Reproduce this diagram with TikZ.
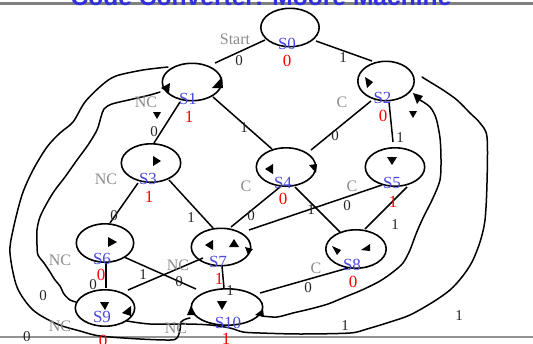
\documentclass[tikz,border=0pt]{standalone}
\usepackage{fontspec}
\setmainfont{Liberation Serif}
\newfontfamily\headfont{Liberation Sans}
\usetikzlibrary{shapes.geometric,calc}
\definecolor{statename}{RGB}{72,72,224}
\definecolor{outred}{RGB}{255,0,0}
\definecolor{condgray}{RGB}{140,140,140}
\definecolor{headblue}{RGB}{48,48,224}
\definecolor{rulegray}{RGB}{128,128,128}
\begin{document}
\begin{tikzpicture}[x=1pt,y=-1pt,
  state/.style={ellipse,draw,line width=1.6pt,inner sep=0pt},
  sname/.style={text=statename,font=\fontsize{17}{18}\selectfont,inner sep=0pt},
  sout/.style={text=outred,font=\fontsize{17}{18}\selectfont,inner sep=0pt},
  cond/.style={text=condgray,font=\fontsize{16}{18}\selectfont,inner sep=0pt},
  bit/.style={text=black!85,font=\fontsize{15}{17}\selectfont,inner sep=0pt},
  link/.style={line width=1.5pt},
  hand/.style={line width=1.5pt,line join=round,line cap=round},
  tipmark/.style={fill=black}
]
\useasboundingbox (0,0) rectangle (533,343);
\clip (0,0) rectangle (533,343);

% header and footer rules
\draw[rulegray,line width=3.2pt] (0,3.4) -- (533,3.4);
\draw[rulegray!85,line width=1.8pt] (0,337) -- (533,337);
\node[anchor=base,text=headblue,font=\headfont\bfseries\fontsize{24.6}{28}\selectfont,inner sep=0pt]
  (head) at (261,5.8) {Code Converter: Moore Machine};

% states
\node[state,minimum width=58.4pt,minimum height=38.4pt] (S0)  at (290,27.5) {};
\node[state,minimum width=59.4pt,minimum height=37.4pt] (S1)  at (192,82) {};
\node[state,minimum width=56.4pt,minimum height=39.4pt] (S2)  at (386,81) {};
\node[state,minimum width=59.4pt,minimum height=38.4pt] (S3)  at (151,163) {};
\node[state,minimum width=59.4pt,minimum height=38.4pt] (S4)  at (286,167) {};
\node[state,minimum width=59.4pt,minimum height=38.4pt] (S5)  at (395,167) {};
\node[state,minimum width=57.4pt,minimum height=38.4pt] (S6)  at (105,243) {};
\node[state,minimum width=59.4pt,minimum height=37.4pt] (S7)  at (221,247) {};
\node[state,minimum width=60.4pt,minimum height=38.4pt] (S8)  at (356,249) {};
\node[state,minimum width=59.4pt,minimum height=36.4pt] (S9)  at (105,308) {};
\node[state,minimum width=71.4pt,minimum height=36.4pt] (S10) at (227,307) {};

% straight transitions
\draw[link] ($(S0)+(-25,12.5)$) -- ($(S1)+(23,-19)$);
\draw[link] ($(S0)+(26,13.5)$)  -- ($(S2)+(-14,-20)$);
\draw[link] ($(S1)+(-12,20)$)   -- ($(S3)+(3,-20)$);
\draw[link] ($(S1)+(21,15)$)    -- ($(S4)+(-14,-18)$);
\draw[link] ($(S2)+(-15,20)$)   -- ($(S4)+(25,-17)$);
\draw[link] ($(S2)+(3,21)$)     -- ($(S5)+(-2,-25)$);
\draw[link] ($(S3)+(-13,20)$)   -- ($(S6)+(5,-20)$);
\draw[link] ($(S3)+(18,17)$)    -- ($(S7)+(-8,-19)$);
\draw[link] ($(S4)+(-6,20)$)    -- ($(S7)+(10,-20)$);
\draw[link] ($(S4)+(9,20)$)     -- ($(S8)+(-16,-17)$);
\draw[link] ($(S5)+(-13,18)$)   -- ($(S7)+(28,-17)$);
\draw[link] ($(S5)+(12,20)$)    -- ($(S8)+(9,-20)$);
\draw[link] ($(S6)+(1,20)$)     -- ($(S9)+(1,-20)$);
\draw[link] ($(S6)+(19,14)$)    -- ($(S10)+(-31,-18)$);
\draw[link] ($(S9)+(23,-18)$)   -- ($(S7)+(-18,11)$);
\draw[link] ($(S7)+(1,19)$)     -- ($(S10)+(-3,-19)$);
\draw[link] ($(S8)+(-8,19)$)    -- ($(S10)+(33,-14)$);

% hand-drawn return paths
\coordinate (olA) at ($(S1)+(-24,-15)$);
\coordinate (olB) at ($(S10)+(-37,11)$);
\coordinate (ilA) at ($(S9)+(-29,-6)$);
\coordinate (ilB) at ($(S1)+(-32,10)$);
\coordinate (orA) at ($(S9)+(22,13)$);
\coordinate (orB) at ($(S2)+(36,-4)$);
\coordinate (irA) at ($(S10)+(35,9)$);
\coordinate (irB) at ($(S2)+(34,19)$);

\draw[hand] plot[smooth,tension=0.5] coordinates {(olA) (143,70) (116,76) (102,85) (85,102) (73,122)
  (60,133) (47,147) (33,170) (22,195) (13,230) (10,253) (17,287) (33,310) (57,324) (80,331)
  (100,336) (140,339) (170,340) (177,338) (180,330) (181,322) (186,319) (olB)};
\draw[hand] plot[smooth,tension=0.5] coordinates {(ilA) (70,300) (64,294) (60,286) (55,280)
  (50,272) (44,263) (38,255) (37,245) (37,230) (40,217) (47,203) (55,190) (65,177) (77,160)
  (88,145) (97,130) (101,117) (104,109) (112,104) (133,99) (150,95) (ilB)};
\draw[hand] plot[smooth,tension=0.5] coordinates {(orA) (150,324) (187,324) (210,325) (230,328)
  (243,332) (260,333) (300,334) (350,333) (367,329) (390,322) (410,315) (433,302) (450,290)
  (462,277) (472,262) (480,242) (485,220) (487,183) (487,137) (480,123) (470,113) (457,100)
  (443,90) (430,82) (orB)};
\draw[hand] plot[smooth,tension=0.5] coordinates {(irA) (277,317) (293,313) (310,309) (328,304)
  (345,297) (362,290) (380,281) (393,272) (403,263) (410,250) (416,234) (423,218) (433,198)
  (440,180) (441,160) (440,138) (436,118) (430,107) (irB)};

% arrowheads
\fill[tipmark] (222,77) -- (212,88) -- (223,88) -- cycle;
\fill[tipmark] (161,88) -- (170,83) -- (169,93) -- cycle;
\fill[tipmark] (157,119) -- (153,112) -- (161,112) -- cycle;
\fill[tipmark] (365,77) -- (373,82) -- (367,88) -- cycle;
\fill[tipmark] (413,93) -- (423,96) -- (417,104) -- cycle;
\fill[tipmark] (413,118) -- (409,111) -- (417,111) -- cycle;
\fill[tipmark] (161,161) -- (153,156) -- (153,166) -- cycle;
\fill[tipmark] (265,169) -- (273,164) -- (273,174) -- cycle;
\fill[tipmark] (316,173) -- (309,165) -- (317,164) -- cycle;
\fill[tipmark] (392,165) -- (387,157) -- (397,157) -- cycle;
\fill[tipmark] (117,242) -- (108,237) -- (108,247) -- cycle;
\fill[tipmark] (205,245) -- (213,240) -- (213,250) -- cycle;
\fill[tipmark] (234,239) -- (229,247) -- (239,247) -- cycle;
\fill[tipmark] (248,255) -- (245,247) -- (253,249) -- cycle;
\fill[tipmark] (332,246) -- (341,250) -- (337,255) -- cycle;
\fill[tipmark] (370,244) -- (361,250) -- (370,251) -- cycle;
\fill[tipmark] (105,310) -- (100,302) -- (109,302) -- cycle;
\fill[tipmark] (122,313) -- (131,306) -- (131,316) -- cycle;
\fill[tipmark] (222,310) -- (217,301) -- (227,301) -- cycle;
\fill[tipmark] (191,306) -- (187,315) -- (196,315) -- cycle;
\fill[tipmark] (255,315) -- (263,309) -- (264,317) -- cycle;

% state names and outputs
\node[sname] (n0)  at (287,43.5) {S0};   \node[sout] (o0)  at (287,61)    {0};
\node[sname] (n1)  at (188,98.6) {S1};   \node[sout] (o1)  at (189,117)   {1};
\node[sname] (n2)  at (382.5,98) {S2};   \node[sout] (o2)  at (383,115.6) {0};
\node[sname] (n3)  at (148,179)  {S3};   \node[sout] (o3)  at (149,197)   {1};
\node[sname] (n4)  at (283,183)  {S4};   \node[sout] (o4)  at (283,199)   {0};
\node[sname] (n5)  at (392,183)  {S5};   \node[sout] (o5)  at (393,202)   {1};
\node[sname] (n6)  at (102,259)  {S6};   \node[sout] (o6)  at (101,275)   {0};
\node[sname] (n7)  at (218,262)  {S7};   \node[sout] (o7)  at (219,279)   {1};
\node[sname] (n8)  at (352,265)  {S8};   \node[sout] (o8)  at (353,282)   {0};
\node[sname] (n9)  at (102,317)  {S9};   \node[sout] (o9)  at (103,341)   {0};
\node[sname] (n10) at (228,323)  {S10};  \node[sout] (o10) at (226,339)   {1};

% input conditions
\node[cond] (cStart) at (235,39)  {Start};
\node[cond] (c1)  at (146,102) {NC};
\node[cond] (c2)  at (342,102) {C};
\node[cond] (c3)  at (106,179) {NC};
\node[cond] (c4)  at (246,186) {C};
\node[cond] (c5)  at (352,186) {C};
\node[cond] (c6)  at (60,260)  {NC};
\node[cond] (c7)  at (178,265) {NC};
\node[cond] (c8)  at (316,268) {C};
\node[cond] (c9)  at (60,326)  {NC};
\node[cond] (c10) at (176,328) {NC};

% input bits on transitions
\node[bit] (b01)  at (239,61)  {0};
\node[bit] (b02)  at (343,58)  {1};
\node[bit] (b14)  at (244,128) {1};
\node[bit] (b13)  at (154,132) {0};
\node[bit] (b24)  at (335,136) {0};
\node[bit] (b25)  at (400,138) {1};
\node[bit] (b36)  at (114,216) {0};
\node[bit] (b37)  at (191,218) {1};
\node[bit] (b47)  at (251,216) {0};
\node[bit] (b48)  at (311,210) {1};
\node[bit] (b57)  at (347,206) {0};
\node[bit] (b58)  at (395,225) {1};
\node[bit] (b79)  at (143,275) {1};
\node[bit] (b610) at (179,282) {0};
\node[bit] (b69)  at (93,285)  {0};
\node[bit] (b710) at (230,291) {1};
\node[bit] (b810) at (308,288) {0};
\node[bit] (b91)  at (43,296)  {0};
\node[bit] (b101) at (27,337)  {0};
\node[bit] (b102) at (345,326) {1};
\node[bit] (b92)  at (459,316) {1};
\end{tikzpicture}
\end{document}
